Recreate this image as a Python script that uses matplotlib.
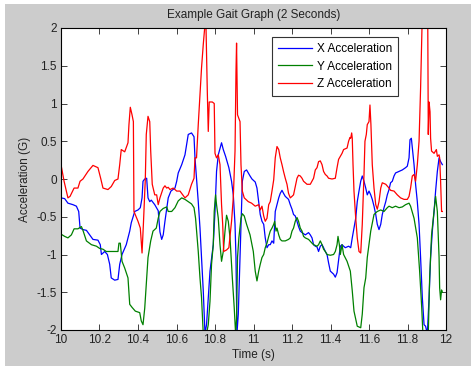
import numpy as np
import matplotlib
matplotlib.use('Agg')
import matplotlib.pyplot as plt
from matplotlib.patches import Rectangle

plt.rcParams['font.family'] = ['Liberation Sans', 'DejaVu Sans']
plt.rcParams['axes.unicode_minus'] = False

# X acceleration (blue)
tx = [10.000, 10.019, 10.036, 10.062, 10.080, 10.092, 10.099, 10.114, 10.132, 10.149,
      10.166, 10.192, 10.204, 10.210, 10.227, 10.241, 10.253, 10.261, 10.279, 10.296,
      10.305, 10.317, 10.339, 10.357, 10.365, 10.383, 10.400, 10.412, 10.421, 10.426,
      10.435, 10.445, 10.452, 10.461, 10.469, 10.487, 10.505, 10.514, 10.523, 10.531,
      10.540, 10.557, 10.571, 10.592, 10.601, 10.609, 10.627, 10.644, 10.661, 10.678,
      10.691, 10.696, 10.704, 10.713, 10.722, 10.730, 10.739, 10.748, 10.756, 10.765,
      10.774, 10.791, 10.800, 10.808, 10.817, 10.834, 10.843, 10.855, 10.872, 10.886,
      10.895, 10.904, 10.909, 10.914, 10.921, 10.930, 10.935, 10.942, 10.952, 10.964,
      10.982, 10.992, 11.009, 11.018, 11.027, 11.035, 11.044, 11.053, 11.061, 11.070,
      11.079, 11.087, 11.096, 11.105, 11.113, 11.122, 11.131, 11.139, 11.148, 11.156,
      11.165, 11.182, 11.191, 11.200, 11.208, 11.217, 11.226, 11.234, 11.243, 11.252,
      11.269, 11.286, 11.295, 11.304, 11.312, 11.321, 11.330, 11.338, 11.347, 11.356,
      11.364, 11.373, 11.382, 11.390, 11.399, 11.416, 11.425, 11.434, 11.442, 11.451,
      11.460, 11.468, 11.477, 11.494, 11.505, 11.513, 11.522, 11.531, 11.539, 11.548,
      11.557, 11.565, 11.574, 11.583, 11.591, 11.600, 11.609, 11.617, 11.626, 11.635,
      11.643, 11.652, 11.661, 11.669, 11.678, 11.687, 11.695, 11.704, 11.712, 11.721,
      11.730, 11.738, 11.756, 11.773, 11.790, 11.799, 11.808, 11.813, 11.820, 11.825,
      11.834, 11.842, 11.851, 11.860, 11.868, 11.877, 11.886, 11.894, 11.903, 11.912,
      11.920, 11.929, 11.938, 11.946, 11.955, 11.964, 11.972, 11.981]
ax_vals = [-0.25, -0.26, -0.32, -0.34, -0.36, -0.43, -0.65, -0.67, -0.68, -0.74,
           -0.80, -0.81, -0.87, -1.00, -0.96, -1.00, -1.13, -1.31, -1.34, -1.33,
           -1.13, -1.00, -0.87, -0.69, -0.58, -0.43, -0.41, -0.38, -0.25, -0.03,
           0.00, 0.01, -0.25, -0.30, -0.28, -0.34, -0.42, -0.70, -0.80, -0.74,
           -0.56, -0.25, -0.16, -0.12, -0.03, 0.08, 0.19, 0.32, 0.59, 0.61,
           0.56, 0.28, 0.01, -0.30, -0.65, -1.04, -1.48, -2.05, -1.93, -1.57,
           -1.22, -0.87, -0.43, 0.10, 0.32, 0.48, 0.39, 0.30, 0.15, -0.03,
           -0.21, -0.60, -1.04, -2.05, -1.79, -1.04, -0.60, -0.03, 0.10, 0.12,
           0.04, 0.00, -0.04, -0.12, -0.30, -0.47, -0.56, -0.60, -0.78, -0.91,
           -0.87, -0.87, -0.82, -0.85, -0.43, -0.34, -0.25, -0.19, -0.15, -0.19,
           -0.23, -0.27, -0.34, -0.40, -0.47, -0.49, -0.56, -0.63, -0.69, -0.71,
           -0.74, -0.71, -0.74, -0.78, -0.87, -0.89, -0.90, -0.96, -0.89, -0.87,
           -0.91, -0.96, -1.00, -1.11, -1.22, -1.26, -1.30, -1.24, -1.07, -0.89,
           -0.87, -0.89, -0.91, -0.89, -0.91, -0.78, -0.65, -0.52, -0.30, -0.16,
           -0.03, 0.04, -0.03, -0.12, -0.21, -0.16, -0.21, -0.27, -0.36, -0.47,
           -0.60, -0.67, -0.60, -0.47, -0.38, -0.30, -0.21, -0.14, -0.05, -0.03,
           0.04, 0.08, 0.10, 0.12, 0.15, 0.17, 0.28, 0.52, 0.54, 0.41,
           0.19, -0.07, -0.30, -0.60, -1.04, -1.57, -1.93, -1.95, -2.05, -1.57,
           -1.04, -0.69, -0.43, -0.16, 0.10, 0.28, 0.23, 0.19]

# Y acceleration (green)
ty = [10.000, 10.019, 10.036, 10.054, 10.068, 10.088, 10.106, 10.114, 10.132, 10.158,
      10.184, 10.201, 10.218, 10.235, 10.261, 10.296, 10.301, 10.308, 10.317, 10.331,
      10.348, 10.357, 10.369, 10.386, 10.409, 10.417, 10.426, 10.435, 10.443, 10.452,
      10.466, 10.478, 10.495, 10.505, 10.514, 10.531, 10.549, 10.557, 10.575, 10.592,
      10.609, 10.627, 10.644, 10.661, 10.678, 10.691, 10.699, 10.713, 10.722, 10.730,
      10.739, 10.756, 10.765, 10.774, 10.782, 10.791, 10.796, 10.803, 10.808, 10.817,
      10.826, 10.834, 10.843, 10.852, 10.860, 10.869, 10.878, 10.890, 10.900, 10.907,
      10.912, 10.917, 10.924, 10.935, 10.942, 10.952, 10.964, 10.982, 10.999, 11.009,
      11.018, 11.027, 11.035, 11.044, 11.053, 11.061, 11.070, 11.079, 11.087, 11.096,
      11.105, 11.110, 11.117, 11.122, 11.131, 11.139, 11.148, 11.165, 11.182, 11.191,
      11.200, 11.208, 11.217, 11.226, 11.234, 11.243, 11.252, 11.260, 11.269, 11.286,
      11.304, 11.312, 11.330, 11.338, 11.347, 11.356, 11.364, 11.373, 11.382, 11.399,
      11.416, 11.425, 11.434, 11.439, 11.446, 11.451, 11.460, 11.468, 11.486, 11.503,
      11.513, 11.522, 11.539, 11.557, 11.565, 11.574, 11.583, 11.591, 11.600, 11.609,
      11.626, 11.643, 11.661, 11.678, 11.695, 11.704, 11.721, 11.738, 11.756, 11.773,
      11.790, 11.808, 11.816, 11.834, 11.851, 11.863, 11.874, 11.880, 11.908, 11.915,
      11.925, 11.938, 11.946, 11.955, 11.960, 11.964, 11.967, 11.972, 11.977, 11.981]
ay_vals = [-0.73, -0.76, -0.78, -0.74, -0.66, -0.66, -0.63, -0.68, -0.82, -0.87,
           -0.89, -0.92, -0.93, -0.96, -0.96, -0.96, -0.85, -0.85, -1.09, -1.18,
           -1.31, -1.66, -1.70, -1.75, -1.77, -1.88, -1.93, -1.71, -1.40, -1.04,
           -0.82, -0.69, -0.65, -0.52, -0.43, -0.39, -0.37, -0.43, -0.43, -0.38,
           -0.29, -0.25, -0.27, -0.30, -0.33, -0.38, -0.52, -0.96, -1.31, -1.57,
           -2.05, -2.05, -1.93, -1.62, -1.13, -0.87, -0.43, -0.21, -0.34, -0.52,
           -0.87, -1.09, -0.96, -0.69, -0.48, -0.56, -0.78, -1.31, -1.71, -2.05,
           -1.85, -1.04, -0.78, -0.52, -0.46, -0.49, -0.60, -0.74, -0.96, -1.22,
           -1.35, -1.22, -1.13, -1.04, -1.00, -0.91, -0.85, -0.76, -0.69, -0.65,
           -0.60, -0.56, -0.69, -0.65, -0.74, -0.80, -0.82, -0.82, -0.80, -0.78,
           -0.69, -0.65, -0.56, -0.51, -0.56, -0.65, -0.69, -0.76, -0.78, -0.80,
           -0.85, -0.87, -0.89, -0.87, -0.82, -0.87, -0.93, -0.96, -1.00, -1.01,
           -1.00, -0.96, -0.87, -0.76, -0.87, -1.00, -0.87, -1.00, -1.09, -1.22,
           -1.48, -1.75, -1.95, -1.97, -1.79, -1.44, -1.31, -1.04, -0.87, -0.69,
           -0.47, -0.43, -0.41, -0.43, -0.38, -0.36, -0.38, -0.36, -0.38, -0.37,
           -0.34, -0.32, -0.36, -0.52, -0.78, -1.22, -1.71, -2.05, -2.05, -1.31,
           -0.74, -0.43, -0.23, -0.43, -0.78, -1.04, -1.44, -1.60, -1.47, -1.50]

# Z acceleration (red)
tz = [10.000, 10.016, 10.036, 10.047, 10.068, 10.088, 10.099, 10.114, 10.140, 10.166,
      10.192, 10.206, 10.218, 10.244, 10.261, 10.279, 10.296, 10.305, 10.313, 10.331,
      10.348, 10.353, 10.360, 10.369, 10.376, 10.379, 10.400, 10.412, 10.421, 10.428,
      10.438, 10.443, 10.452, 10.461, 10.466, 10.474, 10.487, 10.497, 10.505, 10.514,
      10.531, 10.540, 10.549, 10.557, 10.566, 10.583, 10.601, 10.618, 10.635, 10.644,
      10.661, 10.678, 10.691, 10.696, 10.704, 10.713, 10.722, 10.730, 10.739, 10.748,
      10.753, 10.760, 10.765, 10.770, 10.786, 10.796, 10.800, 10.808, 10.817, 10.826,
      10.834, 10.840, 10.845, 10.860, 10.872, 10.886, 10.895, 10.904, 10.909, 10.912,
      10.917, 10.930, 10.935, 10.942, 10.952, 10.973, 10.990, 11.009, 11.027, 11.035,
      11.044, 11.053, 11.061, 11.070, 11.079, 11.087, 11.096, 11.105, 11.113, 11.122,
      11.131, 11.139, 11.148, 11.156, 11.165, 11.174, 11.182, 11.191, 11.200, 11.208,
      11.217, 11.226, 11.234, 11.243, 11.252, 11.260, 11.278, 11.295, 11.312, 11.321,
      11.330, 11.338, 11.347, 11.356, 11.364, 11.373, 11.382, 11.390, 11.408, 11.425,
      11.434, 11.442, 11.451, 11.460, 11.468, 11.486, 11.494, 11.501, 11.505, 11.510,
      11.513, 11.517, 11.522, 11.531, 11.539, 11.548, 11.557, 11.565, 11.574, 11.579,
      11.586, 11.591, 11.600, 11.605, 11.610, 11.617, 11.626, 11.635, 11.643, 11.652,
      11.661, 11.669, 11.687, 11.704, 11.712, 11.730, 11.747, 11.764, 11.782, 11.799,
      11.808, 11.816, 11.825, 11.834, 11.842, 11.851, 11.860, 11.868, 11.877, 11.890,
      11.905, 11.908, 11.912, 11.917, 11.920, 11.925, 11.938, 11.950, 11.955, 11.964,
      11.967, 11.972, 11.977, 11.981]
az_vals = [0.19, -0.03, -0.25, -0.23, -0.12, -0.12, -0.03, 0.00, 0.10, 0.18,
           0.15, 0.01, -0.12, -0.14, -0.10, -0.02, 0.00, 0.19, 0.39, 0.36,
           0.48, 0.72, 0.95, 0.85, 0.76, -0.43, -0.56, -0.65, -0.98, -0.60,
           0.00, 0.59, 0.83, 0.76, 0.37, -0.07, -0.21, -0.21, -0.34, -0.25,
           -0.12, -0.09, -0.12, -0.11, -0.14, -0.12, -0.16, -0.16, -0.22, -0.25,
           -0.21, -0.07, 0.01, 0.28, 0.28, 0.72, 1.11, 1.47, 1.78, 2.05,
           2.05, 1.16, 0.63, 1.02, 1.02, 1.00, 0.34, 0.28, 0.32, 0.19,
           -0.34, -0.60, -0.96, -0.94, -0.91, -0.56, -0.25, 0.37, 1.42, 1.80,
           0.85, 0.76, 0.19, -0.16, -0.25, -0.30, -0.32, -0.36, -0.34, -0.41,
           -0.36, -0.49, -0.56, -0.52, -0.34, -0.30, -0.16, -0.01, 0.28, 0.43,
           0.39, 0.28, 0.19, 0.10, 0.01, -0.07, -0.19, -0.25, -0.23, -0.21,
           -0.10, 0.01, 0.05, 0.04, 0.01, -0.03, -0.07, -0.07, 0.01, 0.12,
           0.15, 0.23, 0.24, 0.19, 0.10, 0.06, 0.04, 0.01, 0.00, 0.01,
           0.15, 0.26, 0.30, 0.34, 0.39, 0.41, 0.50, 0.55, 0.54, 0.61,
           0.54, 0.19, -0.16, -0.52, -0.78, -0.96, -0.98, -0.60, 0.06, 0.50,
           0.59, 0.72, 0.76, 0.98, 0.72, 0.19, -0.12, -0.34, -0.40, -0.30,
           -0.12, -0.05, -0.07, -0.12, -0.15, -0.16, -0.21, -0.25, -0.27, -0.27,
           -0.23, -0.12, 0.04, 0.06, -0.03, 0.19, 0.50, 1.20, 2.20, 2.20,
           2.20, 0.59, 1.02, 0.89, 0.54, 0.37, 0.34, 0.39, 0.30, 0.32,
           0.28, -0.03, -0.43, -0.43]

xticks = [10, 10.2, 10.4, 10.6, 10.8, 11, 11.2, 11.4, 11.6, 11.8, 12]
xticklabels = ['10', '10.2', '10.4', '10.6', '10.8', '11', '11.2', '11.4', '11.6', '11.8', '12']
yticks = [-2, -1.5, -1, -0.5, 0, 0.5, 1, 1.5, 2]
yticklabels = ['-2', '-1.5', '-1', '-0.5', '0', '0.5', '1', '1.5', '2']

fig = plt.figure(figsize=(4.71, 3.66), dpi=100)
fig.patch.set_facecolor('white')
# gray MATLAB figure window inside the screenshot
fig.patches.append(Rectangle((5 / 471, 0), 466 / 471, 362 / 366, transform=fig.transFigure,
                             facecolor='#cccccc', edgecolor='none', zorder=-10))

ax = fig.add_axes([61 / 471, 36 / 366, 385 / 471, 302 / 366])
ax.plot(tx, ax_vals, color='#0000ff', lw=0.9, label='X Acceleration')
ax.plot(ty, ay_vals, color='#008000', lw=0.9, label='Y Acceleration')
ax.plot(tz, az_vals, color='#ff0000', lw=0.9, label='Z Acceleration')

ax.set_xlim(10, 12)
ax.set_ylim(-2, 2)
ax.set_xticks(xticks)
ax.set_xticklabels(xticklabels)
ax.set_yticks(yticks)
ax.set_yticklabels(yticklabels)
ax.tick_params(direction='in', top=True, right=True, length=4, width=0.6,
               labelsize=8.5, colors='#222222', pad=3)
for s in ax.spines.values():
    s.set_linewidth(0.8)
    s.set_color('black')

ax.set_title('Example Gait Graph (2 Seconds)', fontsize=8.5, color='#222222', pad=7)
ax.set_xlabel('Time (s)', fontsize=8.5, color='#222222', labelpad=2)
ax.set_ylabel('Acceleration (G)', fontsize=8.5, color='#222222', labelpad=4)

leg = ax.legend(loc='upper right', bbox_to_anchor=(0.8745, 0.969), borderaxespad=0,
                fontsize=8.5, fancybox=False, framealpha=1, edgecolor='#333333',
                handlelength=2.9, handletextpad=0.4, borderpad=0.5, labelspacing=0.45)
leg.get_frame().set_linewidth(0.8)

fig.savefig('out.png', dpi=100)
